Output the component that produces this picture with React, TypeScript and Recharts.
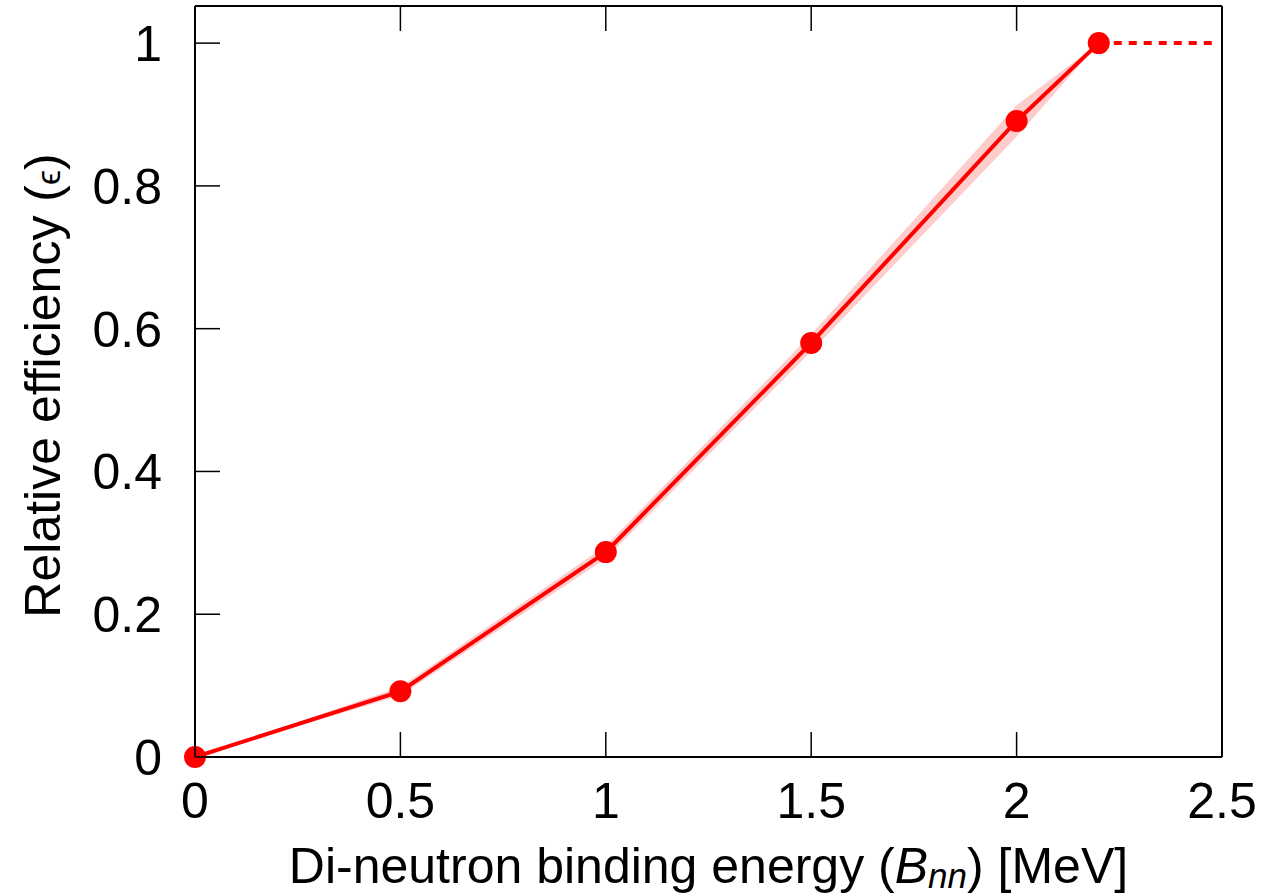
import { Area, ComposedChart, Label, Line, XAxis, YAxis } from 'recharts';

// values
const energies = [0, 0.5, 1, 1.5, 2, 2.2];
const efficiency = [0, 0.092, 0.287, 0.58, 0.891, 1];
const bandLow = [0, 0.086, 0.278, 0.568, 0.869, 1];
const bandHigh = [0, 0.098, 0.296, 0.592, 0.913, 1];
const plateauEnergies = [2.2, 2.48];
const plateauEfficiency = [1, 1];
const xTicks = [0, 0.5, 1, 1.5, 2, 2.5];
const yTicks = [0, 0.2, 0.4, 0.6, 0.8, 1];

const rows = energies.map((e, i) => ({
  energy: e,
  eff: efficiency[i],
  band: [bandLow[i], bandHigh[i]]
}));
const plateauRows = plateauEnergies.map((e, i) => ({ energy: e, eff: plateauEfficiency[i] }));

const FONT = '"Liberation Sans", Arial, Helvetica, sans-serif';
const RED = '#ff0000';
const TICK_LEN = 25;
const fmt = (v: number) => String(v);

function BottomTick({ x, y, payload }: any) {
  return (
    <g>
      <line x1={x} y1={y} x2={x} y2={y - TICK_LEN} stroke="#000" strokeWidth={1.5} />
      <text x={x} y={y + 61} textAnchor="middle" fontSize={50} fontFamily={FONT} fill="#000">
        {fmt(payload.value)}
      </text>
    </g>
  );
}

function TopTick({ x, y }: any) {
  return <line x1={x} y1={y} x2={x} y2={y + TICK_LEN} stroke="#000" strokeWidth={1.5} />;
}

function LeftTick({ x, y, payload }: any) {
  return (
    <g>
      <line x1={x} y1={y} x2={x + TICK_LEN} y2={y} stroke="#000" strokeWidth={1.5} />
      <text x={x - 33} y={y + 18} textAnchor="end" fontSize={50} fontFamily={FONT} fill="#000">
        {fmt(payload.value)}
      </text>
    </g>
  );
}

function RightTick({ x, y }: any) {
  return <line x1={x} y1={y} x2={x - TICK_LEN} y2={y} stroke="#000" strokeWidth={1.5} />;
}

function XTitle({ viewBox }: any) {
  const { x, y, width } = viewBox;
  return (
    <text x={x + width / 2} y={y + 126} textAnchor="middle" fontSize={50} fontFamily={FONT} fill="#000">
      Di-neutron binding energy (<tspan fontStyle="italic">B</tspan>
      <tspan fontStyle="italic" fontSize={35} dy={5}>nn</tspan>
      <tspan dy={-5}>) [MeV]</tspan>
    </text>
  );
}

function YTitle({ viewBox }: any) {
  const { y, height } = viewBox;
  const cx = 60;
  const cy = y + height / 2 + 4;
  return (
    <text
      x={cx}
      y={cy}
      transform={`rotate(-90, ${cx}, ${cy})`}
      textAnchor="middle"
      fontSize={50}
      fontFamily={FONT}
      fill="#000"
    >
      Relative efficiency (<tspan fontSize={34}>ϵ</tspan>)
    </text>
  );
}

export default function App() {
  const axisLine = { stroke: '#000', strokeWidth: 2 };
  return (
    <div style={{ width: 1284, height: 896, background: '#fff' }}>
      <style>{'body{margin:0}'}</style>
      <ComposedChart width={1284} height={896} data={rows} margin={{ top: 5, right: 61, bottom: 0, left: 0 }}>
        <XAxis
          dataKey="energy"
          type="number"
          domain={[0, 2.5]}
          ticks={xTicks}
          interval={0}
          height={139}
          tickSize={0}
          tickMargin={0}
          tickLine={false}
          axisLine={axisLine}
          tick={<BottomTick />}
        >
          <Label content={<XTitle />} />
        </XAxis>
        <XAxis
          xAxisId="top"
          orientation="top"
          dataKey="energy"
          type="number"
          domain={[0, 2.5]}
          ticks={xTicks}
          interval={0}
          height={1}
          tickSize={0}
          tickMargin={0}
          tickLine={false}
          axisLine={axisLine}
          tick={<TopTick />}
        />
        <YAxis
          type="number"
          domain={[0, 1.052]}
          ticks={yTicks}
          interval={0}
          width={195}
          tickSize={0}
          tickMargin={0}
          tickLine={false}
          axisLine={axisLine}
          tick={<LeftTick />}
        >
          <Label content={<YTitle />} />
        </YAxis>
        <YAxis
          yAxisId="right"
          orientation="right"
          type="number"
          domain={[0, 1.052]}
          ticks={yTicks}
          interval={0}
          width={1}
          tickSize={0}
          tickMargin={0}
          tickLine={false}
          axisLine={axisLine}
          tick={<RightTick />}
        />
        <Area
          dataKey="band"
          type="linear"
          stroke="none"
          fill="#ffcccc"
          fillOpacity={1}
          dot={false}
          activeDot={false}
          isAnimationActive={false}
        />
        <Line
          data={plateauRows}
          dataKey="eff"
          type="linear"
          stroke={RED}
          strokeWidth={4}
          strokeDasharray="8 7"
          dot={false}
          activeDot={false}
          isAnimationActive={false}
        />
        <Line
          dataKey="eff"
          type="linear"
          stroke={RED}
          strokeWidth={4}
          dot={{ r: 11, fill: RED, stroke: 'none' }}
          activeDot={false}
          isAnimationActive={false}
        />
      </ComposedChart>
    </div>
  );
}
